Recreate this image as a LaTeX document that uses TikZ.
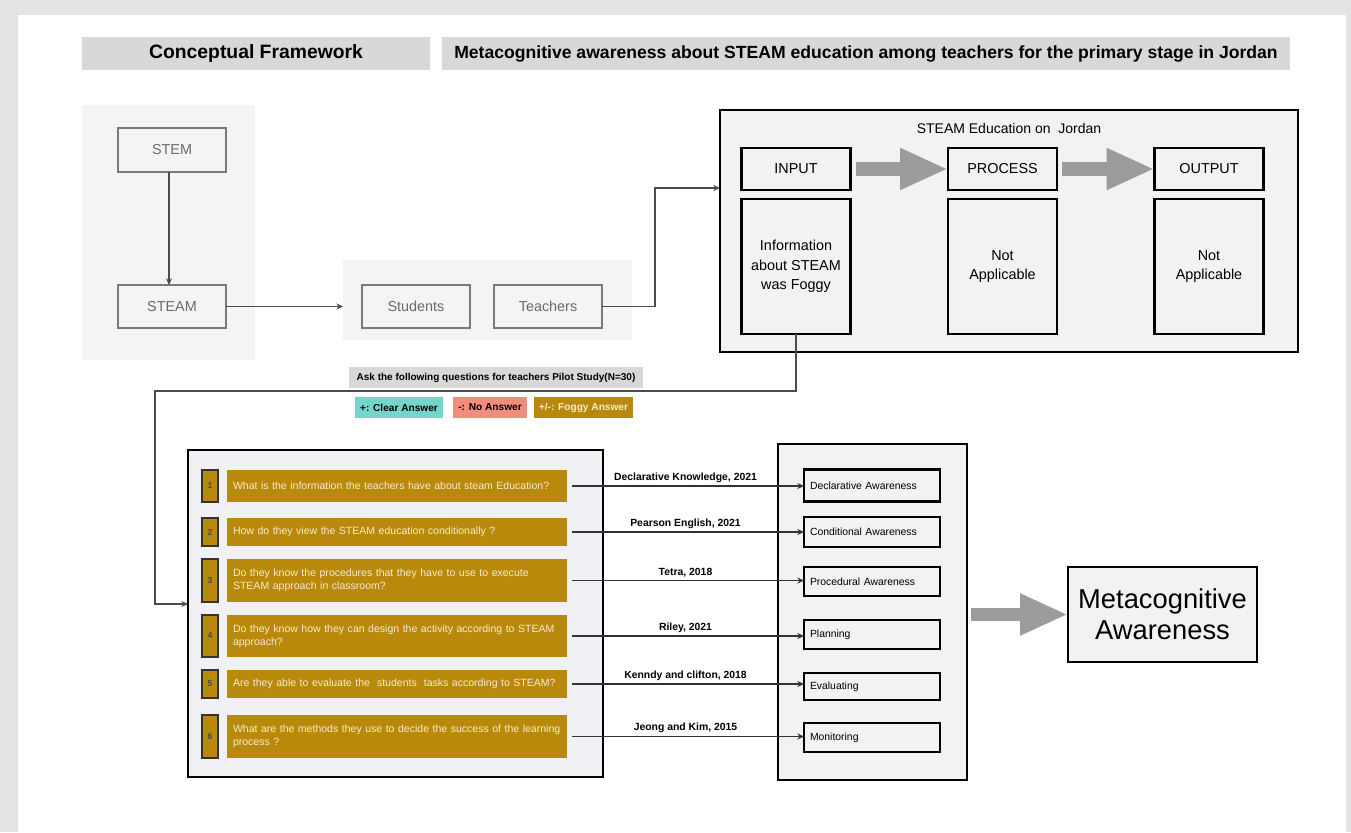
\documentclass[tikz,border=0pt]{standalone}
\usepackage{fontspec}
\setmainfont{Liberation Sans}
\usetikzlibrary{arrows.meta,calc}
\definecolor{pagebg}{HTML}{E4E4E4}
\definecolor{hdr}{HTML}{D8D8D8}
\definecolor{panel}{HTML}{F4F4F4}
\definecolor{boxfill}{HTML}{F2F2F2}
\definecolor{qpanel}{HTML}{F1F0F4}
\definecolor{gold}{HTML}{B8890B}
\definecolor{goldtext}{HTML}{F7ECCF}
\definecolor{tealc}{HTML}{74D6CB}
\definecolor{salmonc}{HTML}{F28C7C}
\definecolor{bigarrow}{HTML}{9C9C9C}
\definecolor{softline}{HTML}{7A7A7A}
\definecolor{softtext}{HTML}{6A6A6A}
\begin{document}
\begin{tikzpicture}[x=0.75pt,y=-0.75pt,
  every node/.style={inner sep=0pt, outer sep=0pt, align=center},
  sz/.style 2 args={minimum width=#1*0.75pt, minimum height=#2*0.75pt},
  hdrbox/.style={fill=hdr},
  softpanel/.style={fill=panel},
  softbox/.style={draw=softline, line width=2.2pt, fill=panel, text=softtext, font=\fontsize{10.8}{13}\selectfont},
  frame/.style={draw=black, line width=2.2pt, fill=boxfill},
  io/.style={frame, font=\fontsize{10.8}{14.5}\selectfont},
  qbox/.style={fill=gold, text=goldtext, font=\fontsize{7.9}{10}\selectfont, text width=246pt, inner xsep=4.5pt, align=left, minimum width=255pt},
  numbox/.style={fill=gold, draw=black!80, line width=1.5pt, minimum width=10.5pt, font=\fontsize{6.5}{8}\selectfont\bfseries, text=black!70},
  awbox/.style={frame, font=\fontsize{7.8}{9}\selectfont, text width=93pt, inner xsep=4.5pt, align=left},
  legend/.style={font=\fontsize{7.6}{9}\selectfont\bfseries},
  cite/.style={font=\fontsize{7.8}{9}\selectfont\bfseries, above=2.5pt},
  conn/.style={draw=black!70, line width=1.4pt, -{Stealth[length=5pt,width=4.5pt]}},
  qarrow/.style={draw=black!80, line width=1pt, -{Stealth[length=5pt,width=4.5pt]}},
  bigarr/.style={draw=bigarrow, line width=10pt, -{Triangle[length=36pt,width=29pt]}}
]
% page
\fill[pagebg] (0,0) rectangle (1351,832);
\fill[white] (18,15) rectangle (1346,832);
\useasboundingbox (0,0) rectangle (1351,832);

% headers
\node[hdrbox, sz={348}{33}, font=\fontsize{14.5}{16}\selectfont\bfseries] (h1) at (256,53.5) {Conceptual Framework};
\node[hdrbox, sz={848}{33}, font=\fontsize{13.2}{15}\selectfont\bfseries] (h2) at (866,53.5) {Metacognitive awareness about STEAM education among teachers for the primary stage in Jordan};

% left part
\node[softpanel, sz={173}{255}] (lp) at (168.5,232.5) {};
\node[softbox, sz={108}{44}] (stem) at (172,150) {STEM};
\node[softbox, sz={108}{43}] (steam) at (172,306.5) {STEAM};
\node[softpanel, sz={289}{80}] (sp) at (487.5,300) {};
\node[softbox, sz={108}{43}] (students) at (416,306.5) {Students};
\node[softbox, sz={108}{43}] (teachers) at (548,306.5) {Teachers};
\draw[conn] ([xshift=-2.25pt]stem.south) -- ([xshift=-2.25pt]steam.north);
\draw[conn] (steam.east) -- (steam.east -| sp.west);

% STEAM education box
\node[frame, sz={578}{242}] (bb) at (1009,231) {};
\node[font=\fontsize{10.5}{12}\selectfont] (bbt) at (1009,128) {STEAM Education on\ \ Jordan};
\node[io, sz={109}{42}] (input) at (796,169) {INPUT};
\node[io, sz={109}{42}] (process) at (1002.5,169) {PROCESS};
\node[io, sz={109}{42}] (output) at (1209,169) {OUTPUT};
\node[io, sz={109}{135}] (foggy) at (796,266.5) {Information\\about STEAM\\was Foggy};
\node[io, sz={109}{135}] (pna) at (1002.5,266.5) {Not\\Applicable};
\node[io, sz={109}{135}] (ona) at (1209,266.5) {Not\\Applicable};
\draw[bigarr, shorten <=4pt] (input) -- (process);
\draw[bigarr, shorten <=4pt] (process) -- (output);

\coordinate (tturn) at (655,188);
\coordinate (bbin) at (720,188);
\draw[conn] (teachers.east) -| (tturn) -- (bbin);

% legend
\node[fill=hdr, sz={294}{21}, font=\fontsize{7.5}{9}\selectfont\bfseries] (ask) at (496,377.5) {Ask the following questions for teachers Pilot Study(N=30)};
\node[legend, fill=tealc, sz={88}{21}] (lclear) at (399,407.5) {+: Clear Answer};
\node[legend, fill=salmonc, sz={74}{21}] (lno) at (490,407.5) {-: No Answer};
\node[legend, fill=gold, text=goldtext, sz={99}{21}] (lfog) at (583.5,407.5) {+/-: Foggy Answer};

% question panel
\node[draw=black, line width=2.2pt, fill=qpanel, sz={415}{327}] (qp) at (395.5,613.5) {};
\coordinate (fa) at (155,391);
\coordinate (qin) at (188,604);
\draw[conn] (foggy.south) |- (fa) |- (qin);

\node[numbox, sz={16}{32}] (n1) at (210,486) {1};
\node[qbox, minimum height=24pt] (q1) at (397,486) {What is the information the teachers have about steam Education?};
\node[numbox, sz={16}{28}] (n2) at (210,532) {2};
\node[qbox, minimum height=21pt] (q2) at (397,532) {How do they view the STEAM education conditionally ?};
\node[numbox, sz={16}{43}] (n3) at (210,580.5) {3};
\node[qbox, minimum height=32.25pt] (q3) at (397,580.5) {Do they know the procedures that they have to use to execute\\STEAM approach in classroom?};
\node[numbox, sz={16}{42}] (n4) at (210,636) {4};
\node[qbox, minimum height=31.5pt] (q4) at (397,636) {Do they know how they can design the activity according to STEAM\\approach?};
\node[numbox, sz={16}{28}] (n5) at (210,684) {5};
\node[qbox, minimum height=21pt] (q5) at (397,684) {Are they able to evaluate the\ \ students\ \ tasks according to STEAM?};
\node[numbox, sz={16}{43}] (n6) at (210,736.5) {6};
\node[qbox, minimum height=32.25pt] (q6) at (397,736.5) {What are the methods they use to decide the success of the learning\\process ?};

% awareness panel
\node[frame, sz={189}{336}] (rp) at (872.5,612) {};
\node[awbox, minimum height=24pt] (a1) at (872,485.5) {Declarative Awareness};
\node[awbox, minimum height=22.5pt] (a2) at (872,532) {Conditional Awareness};
\node[awbox, minimum height=21.75pt] (a3) at (872,581.5) {Procedural Awareness};
\node[awbox, minimum height=21.75pt] (a4) at (872,634.5) {Planning};
\node[awbox, minimum height=20.25pt] (a5) at (872,686.5) {Evaluating};
\node[awbox, minimum height=21.75pt] (a6) at (872,737.5) {Monitoring};

\draw[qarrow, shorten <=3.75pt] (q1.east) -- (q1.east -| a1.west) node[cite, midway] (c1) {Declarative Knowledge, 2021};
\draw[qarrow, shorten <=3.75pt] (q2.east) -- (q2.east -| a2.west) node[cite, midway] (c2) {Pearson English, 2021};
\draw[qarrow, shorten <=3.75pt] (q3.east) -- (q3.east -| a3.west) node[cite, midway] (c3) {Tetra, 2018};
\draw[qarrow, shorten <=3.75pt] (q4.east) -- (q4.east -| a4.west) node[cite, midway] (c4) {Riley, 2021};
\draw[qarrow, shorten <=3.75pt] (q5.east) -- (q5.east -| a5.west) node[cite, midway] (c5) {Kenndy and clifton, 2018};
\draw[qarrow, shorten <=3.75pt] (q6.east) -- (q6.east -| a6.west) node[cite, midway] (c6) {Jeong and Kim, 2015};

% result
\node[frame, sz={189}{95}, font=\fontsize{20.5}{23}\selectfont] (meta) at (1162.5,614.5) {Metacognitive\\Awareness};
\draw[bigarr, shorten <=3pt] (rp.east |- meta.west) -- (meta.west);
\end{tikzpicture}
\end{document}
